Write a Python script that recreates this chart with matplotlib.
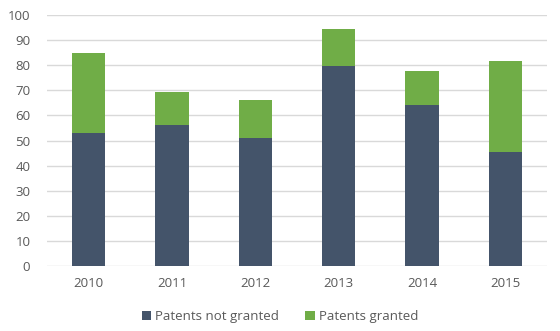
import matplotlib
matplotlib.use("Agg")
import matplotlib.pyplot as plt
import numpy as np

years = ["2010", "2011", "2012", "2013", "2014", "2015"]
not_granted = [53, 56, 51, 79.5, 64, 45.5]
granted = [32, 13.5, 15, 15, 13.5, 36]

plt.rcParams['font.family'] = ['Open Sans', 'DejaVu Sans']

fig = plt.figure(figsize=(5.6, 3.31), dpi=100)
ax = fig.add_axes([0.084, 0.196, 0.893, 0.759])

x = np.arange(len(years))
w = 0.4
ax.bar(x, not_granted, width=w, color="#44546A", label="Patents not granted", zorder=3)
ax.bar(x, granted, width=w, bottom=not_granted, color="#70AD47", label="Patents granted", zorder=3)

ax.set_xlim(-0.5, len(years) - 0.5)
ax.set_ylim(0, 100)
ax.set_yticks(np.arange(0, 101, 10))
ax.set_xticks(x)
ax.set_xticklabels(years)
ax.grid(axis="y", color="#D9D9D9", linewidth=1, zorder=0)
for s in ax.spines.values():
    s.set_visible(False)
ax.tick_params(axis="both", length=0, labelsize=9.5, colors="#595959")
ax.tick_params(axis="y", pad=12)
ax.tick_params(axis="x", pad=8)

leg = fig.legend(loc="center", bbox_to_anchor=(0.5, 0.043), ncol=2, frameon=False,
                 fontsize=9.5, handlelength=0.7, handleheight=0.7, handletextpad=0.3,
                 columnspacing=2.0)
for t in leg.get_texts():
    t.set_color("#595959")

fig.savefig("out.png", dpi=100)
